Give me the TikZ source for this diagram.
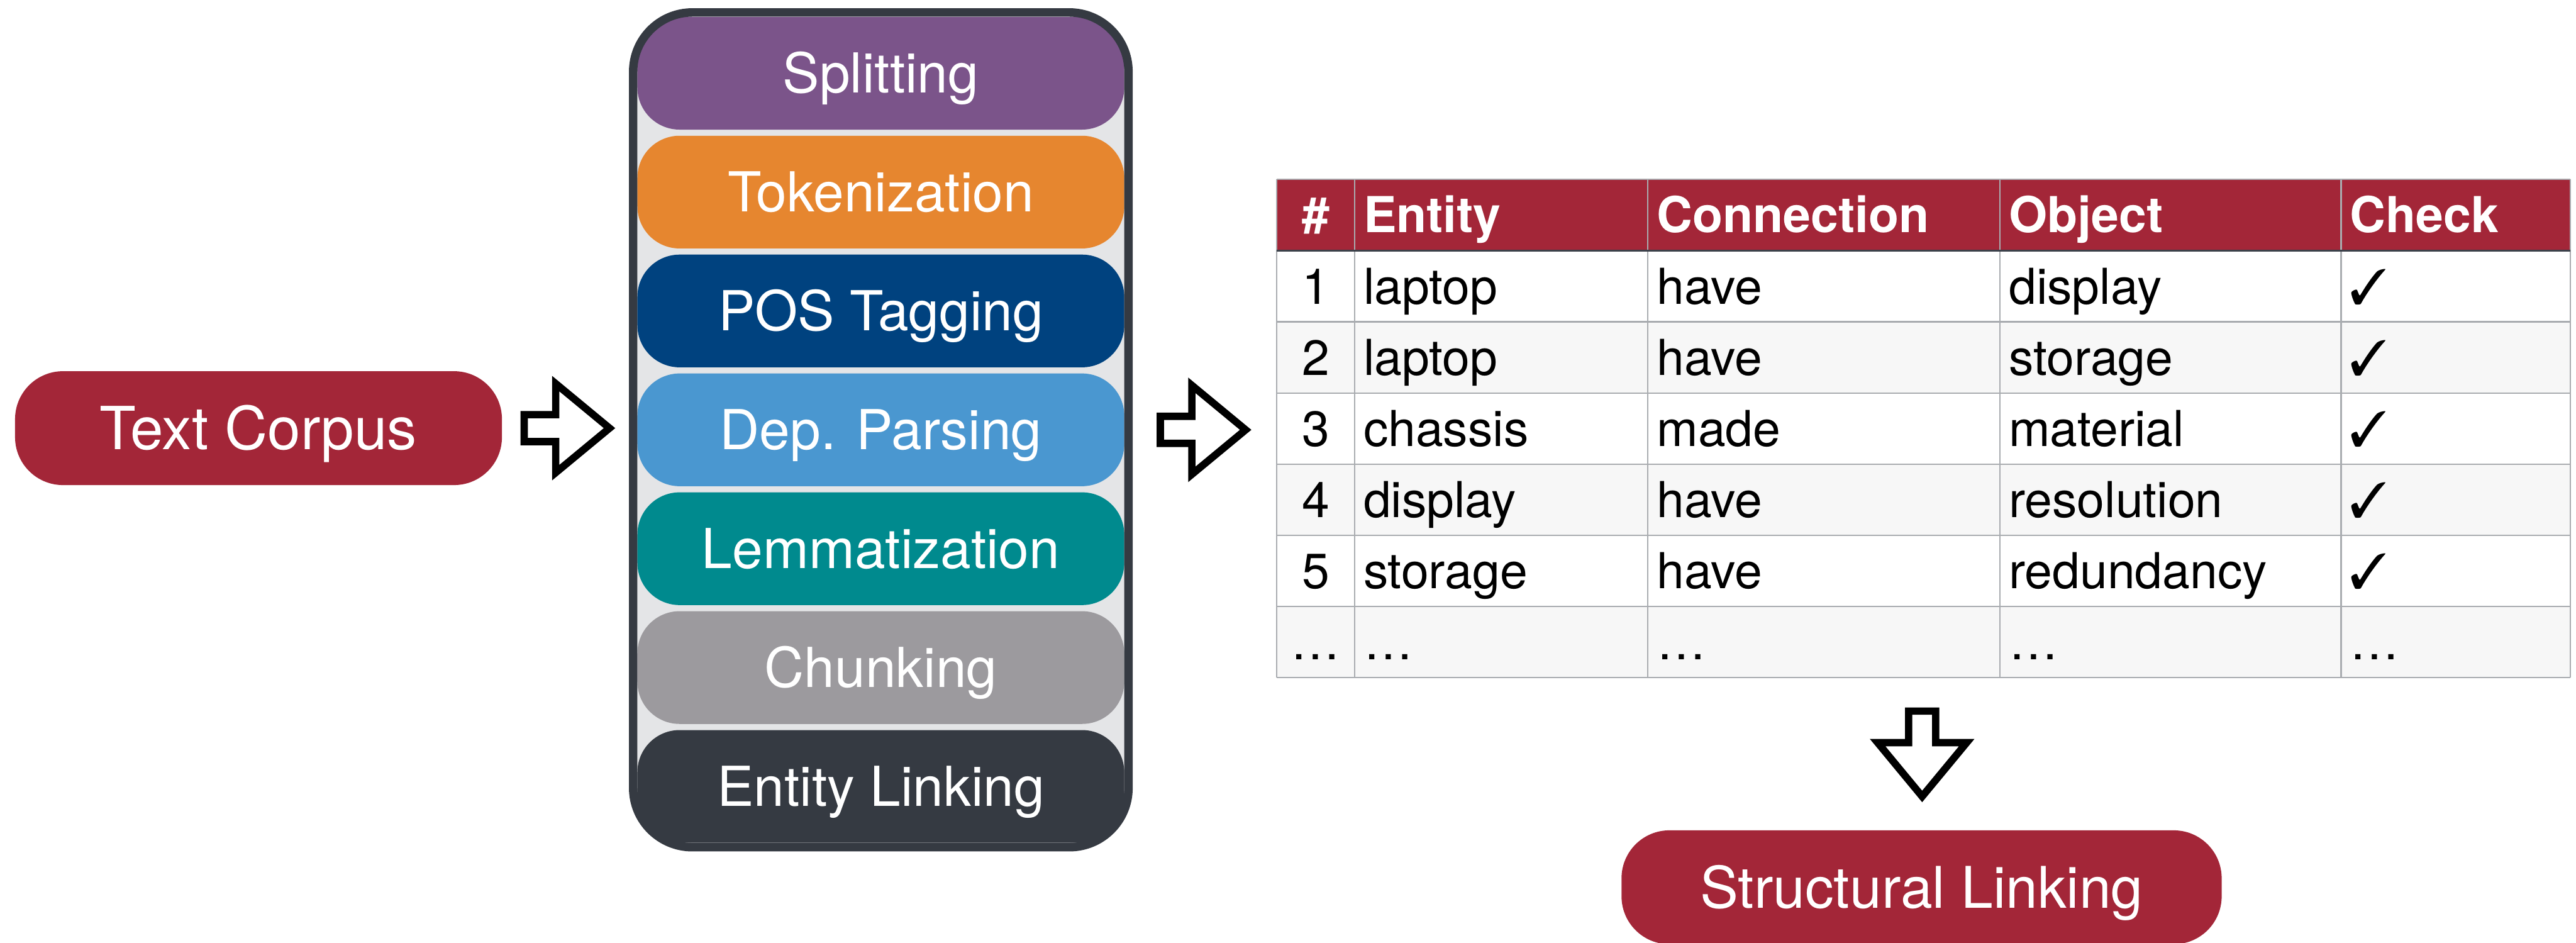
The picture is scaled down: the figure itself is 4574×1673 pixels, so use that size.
\documentclass[tikz,border=0pt]{standalone}
\usepackage{fontspec}
\usepackage{pifont}
\setmainfont{TeX Gyre Heros}
\usetikzlibrary{calc}

\definecolor{crimson}{HTML}{A32638}
\definecolor{stpurple}{HTML}{7B548A}
\definecolor{storange}{HTML}{E6862F}
\definecolor{stnavy}{HTML}{00427F}
\definecolor{stsky}{HTML}{4A97D0}
\definecolor{stteal}{HTML}{008A8E}
\definecolor{stgray}{HTML}{9C9A9E}
\definecolor{stdark}{HTML}{353A42}
\definecolor{framebg}{HTML}{E4E5E7}
\definecolor{rowalt}{HTML}{F7F7F7}
\definecolor{gridgray}{HTML}{A9ACB0}
\definecolor{headline}{HTML}{3C414A}

\newcommand\stagefont{\fontsize{27.8}{32}\selectfont}
\newcommand\pillfont{\fontsize{29}{34}\selectfont}
\newcommand\tblfont{\fontsize{25}{30}\selectfont}
\newcommand\okmark{\ding{51}}

\begin{document}
\begin{tikzpicture}[x=0.01cm, y=-0.01cm,
  stagebox/.style={rectangle, rounded corners=0.75cm, minimum width=8.64cm,
    minimum height=2cm, inner sep=0pt, outer sep=0pt, text=white,
    font=\stagefont, text height=0.70cm, text depth=0cm},
  pillbox/.style={rectangle, rounded corners=0.85cm, fill=crimson,
    minimum height=2.02cm, inner sep=0pt, outer sep=0pt, text=white,
    font=\pillfont, text height=0.73cm, text depth=0cm},
  cell/.style={inner sep=0pt, outer sep=0pt, font=\tblfont,
    text height=0.63cm, text depth=0cm},
  headcell/.style={cell, text=white, font=\tblfont\bfseries},
  arrowline/.style={draw=black, fill=white, line width=0.13cm,
    line join=miter, miter limit=10},
  blockarrow/.pic={
    \draw[arrowline] (6.5,-24) -- (62.5,-24) -- (62.5,-79) -- (158,0)
      -- (62.5,79) -- (62.5,24) -- (6.5,24) -- cycle;
  }]

\useasboundingbox (0,0) rectangle (4574,1673);

% ---------- input ----------
\node[pillbox, minimum width=8.64cm, font=\fontsize{30}{35}\selectfont,
  text height=0.75cm] (corpus) at (459,760) {Text Corpus};

% ---------- pipeline stack ----------
\node[rectangle, fill=framebg, rounded corners=1.05cm, inner sep=0pt,
  outer sep=0pt, minimum width=8.79cm, minimum height=14.81cm]
  (pipe) at (1564,763) {};

\node[stagebox, fill=stpurple] (s1) at (1564,130)  {Splitting};
\node[stagebox, fill=storange] (s2) at (1564,341)  {Tokenization};
\node[stagebox, fill=stnavy]   (s3) at (1564,552)  {POS Tagging};
\node[stagebox, fill=stsky]    (s4) at (1564,763)  {Dep. Parsing};
\node[stagebox, fill=stteal]   (s5) at (1564,974)  {Lemmatization};
\node[stagebox, fill=stgray]   (s6) at (1564,1185) {Chunking};
\node[stagebox, fill=stdark]   (s7) at (1564,1396) {Entity Linking};

\draw[stdark, line width=0.15cm, rounded corners=1.05cm]
  (pipe.south west) rectangle (pipe.north east);

% ---------- result table ----------
\fill[crimson] (2267,318) rectangle (4564,445);
\foreach \r in {2,4,6}
  \fill[rowalt] (2267,{445+126.3*(\r-1)}) rectangle (4564,{445+126.3*\r});

\begin{scope}[gridgray, line width=0.025cm]
  \draw (2267,318) -- (4564,318);
  \foreach \k in {1,...,6}
    \draw (2267,{445+126.3*\k}) -- (4564,{445+126.3*\k});
  \foreach \cx in {2267,2405,2926,3551,4157,4564}
    \draw (\cx,318) -- (\cx,1202.8);
\end{scope}
\draw[headline, line width=0.04cm] (2267,445) -- (4564,445);

\node[headcell] (hnum) at (2336,381.5) {\#};
\node[headcell, anchor=west] (hent) at (2421,381.5) {Entity};
\node[headcell, anchor=west] (hcon) at (2942,381.5) {Connection};
\node[headcell, anchor=west] (hobj) at (3567,381.5) {Object};
\node[headcell, anchor=west] (hchk) at (4173,381.5) {Check};

\foreach \r/\n/\e/\c/\o/\k in {
    1/1/laptop/have/display/\okmark,
    2/2/laptop/have/storage/\okmark,
    3/3/chassis/made/material/\okmark,
    4/4/display/have/resolution/\okmark,
    5/5/storage/have/redundancy/\okmark,
    6/…/…/…/…/…} {
  \pgfmathsetmacro\ry{445+126.3*(\r-0.5)}
  \node[cell] (num\r) at (2336,\ry) {\n};
  \node[cell, anchor=west] (ent\r) at (2421,\ry) {\e};
  \node[cell, anchor=west] (con\r) at (2942,\ry) {\c};
  \node[cell, anchor=west] (obj\r) at (3567,\ry) {\o};
  \node[cell, anchor=west] (chk\r) at (4173,\ry) {\k};
}

\coordinate (tabsouth) at (3413,1202.8);

% ---------- output ----------
\node[pillbox, minimum width=10.65cm] (linking) at (3412,1575)
  {Structural Linking};

% ---------- flow arrows ----------
\pic at ($(corpus.east)+(33,0)$) {blockarrow};
\pic at ($(pipe.east)+(50,0)$) {blockarrow};
\pic[rotate=-90] at ($(tabsouth)+(0,53)$) {blockarrow};

\end{tikzpicture}
\end{document}
